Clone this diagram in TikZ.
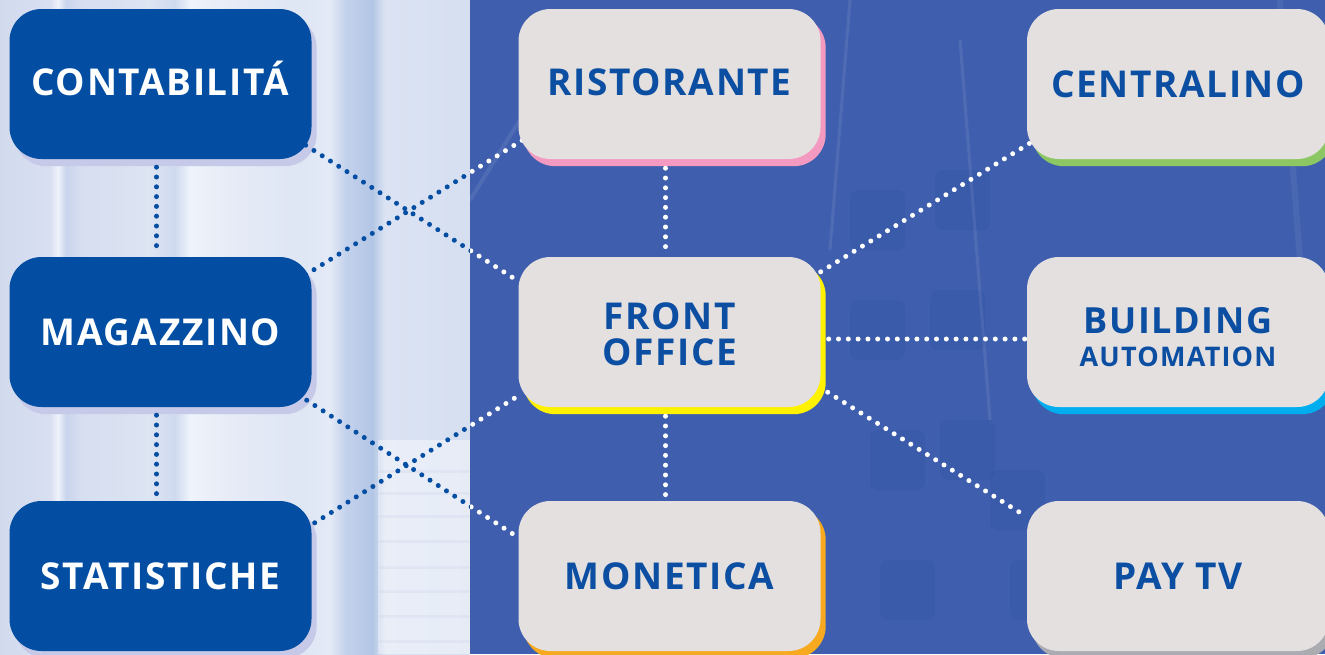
\documentclass[tikz,border=0pt]{standalone}
\usepackage{fontspec}
\setmainfont{Open Sans}
\newfontfamily\boxfont[LetterSpace=4.5]{Open Sans}
\usetikzlibrary{calc}
\pgfdeclarelayer{bg}
\pgfdeclarelayer{lines}
\pgfsetlayers{bg,lines,main}
\definecolor{leftblue}{HTML}{034EA2}
\definecolor{boxgray}{HTML}{E3E0DF}
\definecolor{textblue}{HTML}{0B4EA2}
\definecolor{lavsh}{HTML}{C6C9E7}
\definecolor{pinksh}{HTML}{F49AC1}
\definecolor{yellowsh}{HTML}{FFF200}
\definecolor{orangesh}{HTML}{F7AA1F}
\definecolor{greensh}{HTML}{8DC764}
\definecolor{cyansh}{HTML}{00AEEF}
\definecolor{graysh}{HTML}{ABABB2}
\definecolor{rightbg}{HTML}{3F5FAE}
\definecolor{darkpatch}{HTML}{3454A4}
\definecolor{sA}{HTML}{D2DAEE}
\definecolor{sB}{HTML}{D8DFF1}
\definecolor{sC}{HTML}{EEF2FA}
\definecolor{sD}{HTML}{C9D4EC}
\definecolor{sE}{HTML}{D6DEF0}
\definecolor{sF}{HTML}{DDE4F2}
\definecolor{sG}{HTML}{CFDAEF}
\definecolor{sH}{HTML}{EFF3FA}
\definecolor{sI}{HTML}{E6EBF6}
\definecolor{sJ}{HTML}{DFE6F4}
\definecolor{sK}{HTML}{E4EAF6}
\definecolor{sL}{HTML}{C4D2EC}
\definecolor{sM}{HTML}{B3C6E5}
\definecolor{sN}{HTML}{DBE3F3}
\definecolor{sO}{HTML}{D6DFF0}
\begin{document}
\begin{tikzpicture}[x=1pt,y=-1pt,
  boxbase/.style={rounded corners=32pt, minimum width=302pt, minimum height=150pt,
    inner sep=0pt, align=center, text height=26pt, text depth=0pt,
    font=\boxfont\bfseries\fontsize{37}{37}\selectfont},
  lbox/.style={boxbase, fill=leftblue, text=white},
  gbox/.style={boxbase, fill=boxgray, text=textblue},
  dotl/.style={line width=5pt, line cap=round, dash pattern=on 0pt off 9.8pt},
  shad/.style={rounded corners=32pt}
]
\useasboundingbox (0,0) rectangle (1325,654);

% boxes
\node[lbox] (conta) at (160.5,84) {\raisebox{2pt}{CONTABILIT\'A}};
\node[lbox] (magaz) at (160.5,332) {MAGAZZINO};
\node[lbox] (stat) at (160.5,576) {STATISTICHE};
\node[gbox] (rist) at (669.5,84) {\raisebox{1.5pt}{RISTORANTE}};
\node[gbox] (front) at (669.5,332) {\raisebox{-20pt}{\smash{\begin{tabular}[b]{@{}c@{}}FRONT\\[-2pt]OFFICE\end{tabular}}}};
\node[gbox] (monet) at (669.5,576) {MONETICA};
\node[gbox] (cent) at (1178,84) {CENTRALINO};
\node[gbox,font=\boxfont\bfseries\fontsize{36}{36}\selectfont] (build) at (1178,332) {\raisebox{-21pt}{\smash{\begin{tabular}[b]{@{}c@{}}BUILDING\\[-3pt]{\fontsize{27}{27}\selectfont AUTOMATION}\end{tabular}}}};
\node[gbox] (pay) at (1178,576) {PAY TV};

\begin{pgfonlayer}{bg}
  % left background
  \fill[left color=sA, right color=sB] (0,0) rectangle (50,654);
  \fill[left color=sB, right color=sC] (50,0) rectangle (58,654);
  \fill[left color=sC, right color=sD] (58,0) rectangle (66,654);
  \fill[left color=sD, right color=sE] (66,0) rectangle (80,654);
  \fill[left color=sE, right color=sF] (80,0) rectangle (150,654);
  \fill[left color=sF, right color=sG] (150,0) rectangle (175,654);
  \fill[left color=sG, right color=sH] (175,0) rectangle (190,654);
  \fill[left color=sH, right color=sI] (190,0) rectangle (230,654);
  \fill[left color=sI, right color=sJ] (230,0) rectangle (300,654);
  \fill[left color=sJ, right color=sK] (300,0) rectangle (330,654);
  \fill[left color=sK, right color=sL] (330,0) rectangle (345,654);
  \fill[left color=sL, right color=sM] (345,0) rectangle (372,654);
  \fill[left color=sM, right color=sN] (372,0) rectangle (385,654);
  \fill[left color=sN, right color=sO] (385,0) rectangle (470,654);
  \fill[white, opacity=0.4] (378,440) rectangle (470,654);
  \foreach \yy in {470,492,515,540,566,590,615,640}
    \fill[lavsh, opacity=0.2] (378,\yy) rectangle (470,\yy+3);
  % right background
  \fill[rightbg] (470,0) rectangle (1325,654);
  \foreach \xx/\yy in {850/190,850/300,870/430,935/170,930/290,940/420,990/470,1010/560,880/560}
    \fill[darkpatch, rounded corners=8pt, opacity=0.4] (\xx,\yy) rectangle (\xx+55,\yy+60);
  \draw[white, opacity=0.08, line width=3pt] (850,0) -- (830,250);
  \draw[white, opacity=0.08, line width=3pt] (960,40) -- (990,420);
  \draw[white, opacity=0.08, line width=4pt] (470,200) -- (520,120);
  \draw[white, opacity=0.06, line width=6pt] (1280,0) -- (1300,260);
  % shadows
  \foreach \n in {conta,magaz,stat}
    \fill[lavsh,shad] ($(\n.north west)+(5,7)$) rectangle ($(\n.south east)+(5,7)$);
  \fill[pinksh,shad] ($(rist.north west)+(5,7)$) rectangle ($(rist.south east)+(5,7)$);
  \fill[yellowsh,shad] ($(front.north west)+(5,7)$) rectangle ($(front.south east)+(5,7)$);
  \fill[orangesh,shad] ($(monet.north west)+(5,7)$) rectangle ($(monet.south east)+(5,7)$);
  \fill[greensh,shad] ($(cent.north west)+(5,7)$) rectangle ($(cent.south east)+(5,7)$);
  \fill[cyansh,shad] ($(build.north west)+(5,7)$) rectangle ($(build.south east)+(5,7)$);
  \fill[graysh,shad] ($(pay.north west)+(5,7)$) rectangle ($(pay.south east)+(5,7)$);
\end{pgfonlayer}

\begin{pgfonlayer}{lines}
  % left verticals
  \draw[dotl, leftblue] ($(conta.south)+(-4,8)$) -- ($(magaz.north)+(-4,-3)$);
  \draw[dotl, leftblue] ($(magaz.south)+(-4,8)$) -- ($(stat.north)+(-4,-3)$);
  % middle verticals
  \draw[dotl, white] ($(rist.south)+(-4,9)$) -- ($(front.north)+(-4,-3)$);
  \draw[dotl, white] ($(front.south)+(-4,9)$) -- ($(monet.north)+(-4,-3)$);
  % crossing lines, blue part on the light side
  \begin{scope}
    \clip (0,0) rectangle (470,654);
    \draw[dotl, leftblue] ($(conta.south east)+(-6,-14)$) -- ($(front.north west)+(1,25)$);
    \draw[dotl, leftblue] ($(magaz.north east)+(-6,18)$) -- ($(rist.south west)+(4,-19)$);
    \draw[dotl, leftblue] ($(magaz.south east)+(-5,-7)$) -- ($(monet.north west)+(-1,36)$);
    \draw[dotl, leftblue] ($(stat.north east)+(3,22)$) -- ($(front.south west)+(1,-12)$);
  \end{scope}
  % crossing lines, white part on the blue side
  \begin{scope}
    \clip (470,0) rectangle (1325,654);
    \draw[dotl, white] ($(conta.south east)+(-6,-14)$) -- ($(front.north west)+(1,25)$);
    \draw[dotl, white] ($(magaz.north east)+(-6,18)$) -- ($(rist.south west)+(4,-19)$);
    \draw[dotl, white] ($(magaz.south east)+(-5,-7)$) -- ($(monet.north west)+(-1,36)$);
    \draw[dotl, white] ($(stat.north east)+(3,22)$) -- ($(front.south west)+(1,-12)$);
  \end{scope}
  % right side
  \draw[dotl, white] ($(front.north east)+(0,15)$) -- ($(cent.south west)+(3,-16)$);
  \draw[dotl, white] ($(front.east)+(8,7)$) -- ($(build.west)+(-2,7)$);
  \draw[dotl, white] ($(front.south east)+(7,-15)$) -- ($(pay.north west)+(0,16)$);
\end{pgfonlayer}
\end{tikzpicture}
\end{document}
